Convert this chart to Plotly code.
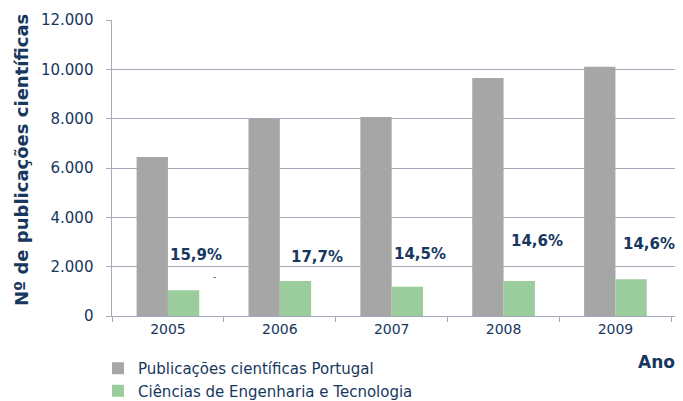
import plotly.graph_objects as go

years = ["2005", "2006", "2007", "2008", "2009"]
publicacoes_portugal = [6450, 8000, 8070, 9650, 10100]
engenharia_tecnologia = [1040, 1420, 1190, 1420, 1490]
percent_labels = ["15,9%", "17,7%", "14,5%", "14,6%", "14,6%"]

# layout placement of the percentage labels (category offset, y in data units)
label_dx = [0.25, 0.33, 0.25, 0.30, 0.30]
label_y = [2470, 2390, 2510, 3040, 2920]

TXT = "#17375E"
GRID = "#A3AABA"
FONT = "DejaVu Sans"

OFF = 8  # page body margin
W, H = 683 - OFF, 401 - OFF
L, R, T, B = 112 - OFF, 6, 20 - OFF, 85
PW, PH = W - L - R, H - T - B


def px(xp):
    return (xp - OFF - L) / PW


def py(yp):
    return (H - B - (yp - OFF)) / PH


fig = go.Figure()
fig.add_trace(go.Bar(x=years, y=publicacoes_portugal, name="Publicações científicas Portugal",
                     marker=dict(color="#A6A6A6", line=dict(width=0))))
fig.add_trace(go.Bar(x=years, y=engenharia_tecnologia, name="Ciências de Engenharia e Tecnologia",
                     marker=dict(color="#9BCC9B", line=dict(width=0))))

ann = []
for i, (t, dx, yy) in enumerate(zip(percent_labels, label_dx, label_y)):
    ann.append(dict(x=i + dx, y=yy, xref="x", yref="y", text=t, showarrow=False,
                    xanchor="center", yanchor="middle",
                    font=dict(family=FONT, size=15, color=TXT, weight="bold")))
ann.append(dict(x=0.42, y=1590, xref="x", yref="y", text="-", showarrow=False,
                xanchor="center", yanchor="middle",
                font=dict(family=FONT, size=9, color=TXT)))
ann.append(dict(x=px(656), y=py(362), xref="paper", yref="paper", text="Ano", showarrow=False,
                xanchor="center", yanchor="middle",
                font=dict(family=FONT, size=17, color=TXT, weight="bold")))
ann.append(dict(x=px(21), y=py(160), xref="paper", yref="paper", text="Nº de publicações científicas",
                showarrow=False, textangle=-90, xanchor="center", yanchor="middle",
                font=dict(family=FONT, size=18, color=TXT, weight="bold")))

fig.update_layout(
    width=W, height=H,
    margin=dict(l=L, r=R, t=T, b=B, autoexpand=False),
    paper_bgcolor="white", plot_bgcolor="white",
    barmode="group", bargap=0.44, bargroupgap=0,
    separators=",.",
    showlegend=True,
    legend=dict(x=px(98), y=py(352), xanchor="left", yanchor="top", orientation="v",
                font=dict(family=FONT, size=15, color=TXT), tracegroupgap=0,
                itemwidth=30, bgcolor="rgba(0,0,0,0)"),
    font=dict(family=FONT, color=TXT),
    annotations=ann,
)

fig.update_xaxes(type="category", showline=True, linecolor=GRID, linewidth=1, automargin=False,
                 ticks="outside", tickson="boundaries", ticklen=5, tickcolor=GRID,
                 tickfont=dict(family=FONT, size=14, color=TXT), showgrid=False)
fig.update_yaxes(range=[0, 12000], dtick=2000, tickformat=",d", ticksuffix="  ",
                 showline=True, automargin=False,
                 linecolor=GRID, linewidth=1, ticks="outside", ticklen=5, tickcolor=GRID,
                 showgrid=True, gridcolor=GRID, gridwidth=1, zeroline=False,
                 tickfont=dict(family=FONT, size=15, color=TXT))

fig.write_html("out.html")
